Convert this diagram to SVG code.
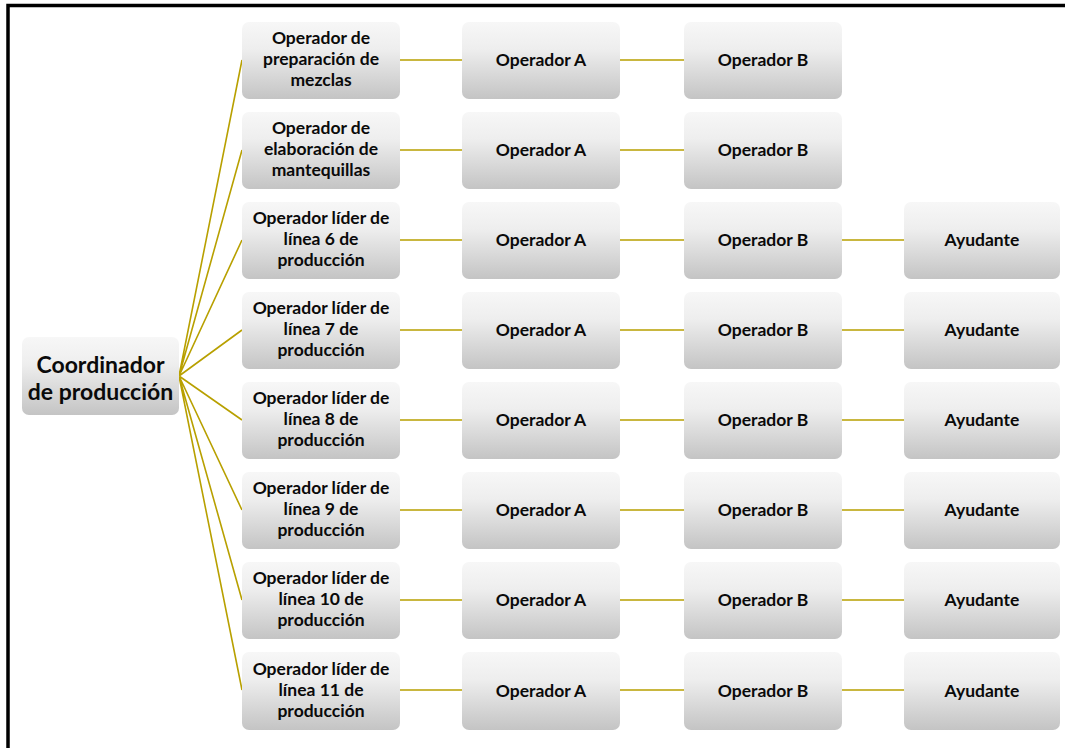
<svg xmlns="http://www.w3.org/2000/svg" width="1065" height="748" viewBox="0 0 1065 748">
<defs>
<linearGradient id="g" x1="0" y1="0" x2="0" y2="1">
<stop offset="0" stop-color="#f7f7f7"/>
<stop offset="0.35" stop-color="#eeeeee"/>
<stop offset="1" stop-color="#c4c4c4"/>
</linearGradient>
</defs>
<style>
.n{fill:url(#g);}
.t{font-family:Lato,"Open Sans","Liberation Sans",sans-serif;font-weight:bold;font-size:17.5px;fill:#0a0a0a;text-anchor:middle;}
.r{font-size:23px;}
.c{stroke:#b8a000;stroke-width:1.6;fill:none;}
</style>
<rect x="0" y="0" width="1065" height="748" fill="#fff"/>
<path d="M8 748 V5.5 H1065" fill="none" stroke="#000" stroke-width="3.5"/>
<g id="connectors">
<path class="c" d="M179 376 L242 60 M179 376 L242 150 M179 376 L242 240 M179 376 L242 330 M179 376 L242 420 M179 376 L242 510 M179 376 L242 600 M179 376 L242 690"/>
<path class="c" d="M400 60 H462 M620 60 H684 M400 150 H462 M620 150 H684"/>
<path class="c" d="M400 240 H462 M620 240 H684 M842 240 H904"/>
<path class="c" d="M400 330 H462 M620 330 H684 M842 330 H904"/>
<path class="c" d="M400 420 H462 M620 420 H684 M842 420 H904"/>
<path class="c" d="M400 510 H462 M620 510 H684 M842 510 H904"/>
<path class="c" d="M400 600 H462 M620 600 H684 M842 600 H904"/>
<path class="c" d="M400 690 H462 M620 690 H684 M842 690 H904"/>
</g>
<g id="root"><rect class="n" x="22" y="337" width="157" height="78" rx="7"/><text class="t r" x="100.5" y="373">Coordinador</text><text class="t r" x="100.5" y="400">de producción</text></g>
<g id="n1"><rect class="n" x="242" y="22" width="158" height="77" rx="7"/><text class="t" x="321" y="44">Operador de</text><text class="t" x="321" y="65">preparación de</text><text class="t" x="321" y="86">mezclas</text></g>
<g id="n1a"><rect class="n" x="462" y="22" width="158" height="77" rx="7"/><text class="t" x="541" y="66">Operador A</text></g>
<g id="n1b"><rect class="n" x="684" y="22" width="158" height="77" rx="7"/><text class="t" x="763" y="66">Operador B</text></g>
<g id="n2"><rect class="n" x="242" y="112" width="158" height="77" rx="7"/><text class="t" x="321" y="134">Operador de</text><text class="t" x="321" y="155">elaboración de</text><text class="t" x="321" y="176">mantequillas</text></g>
<g id="n2a"><rect class="n" x="462" y="112" width="158" height="77" rx="7"/><text class="t" x="541" y="156">Operador A</text></g>
<g id="n2b"><rect class="n" x="684" y="112" width="158" height="77" rx="7"/><text class="t" x="763" y="156">Operador B</text></g>
<g id="n3"><rect class="n" x="242" y="202" width="158" height="77" rx="7"/><text class="t" x="321" y="224">Operador líder de</text><text class="t" x="321" y="245">línea 6 de</text><text class="t" x="321" y="266">producción</text></g>
<g id="n3a"><rect class="n" x="462" y="202" width="158" height="77" rx="7"/><text class="t" x="541" y="246">Operador A</text></g>
<g id="n3b"><rect class="n" x="684" y="202" width="158" height="77" rx="7"/><text class="t" x="763" y="246">Operador B</text></g>
<g id="n3c"><rect class="n" x="904" y="202" width="156" height="77" rx="7"/><text class="t" x="982" y="246">Ayudante</text></g>
<g id="n4"><rect class="n" x="242" y="292" width="158" height="77" rx="7"/><text class="t" x="321" y="314">Operador líder de</text><text class="t" x="321" y="335">línea 7 de</text><text class="t" x="321" y="356">producción</text></g>
<g id="n4a"><rect class="n" x="462" y="292" width="158" height="77" rx="7"/><text class="t" x="541" y="336">Operador A</text></g>
<g id="n4b"><rect class="n" x="684" y="292" width="158" height="77" rx="7"/><text class="t" x="763" y="336">Operador B</text></g>
<g id="n4c"><rect class="n" x="904" y="292" width="156" height="77" rx="7"/><text class="t" x="982" y="336">Ayudante</text></g>
<g id="n5"><rect class="n" x="242" y="382" width="158" height="77" rx="7"/><text class="t" x="321" y="404">Operador líder de</text><text class="t" x="321" y="425">línea 8 de</text><text class="t" x="321" y="446">producción</text></g>
<g id="n5a"><rect class="n" x="462" y="382" width="158" height="77" rx="7"/><text class="t" x="541" y="426">Operador A</text></g>
<g id="n5b"><rect class="n" x="684" y="382" width="158" height="77" rx="7"/><text class="t" x="763" y="426">Operador B</text></g>
<g id="n5c"><rect class="n" x="904" y="382" width="156" height="77" rx="7"/><text class="t" x="982" y="426">Ayudante</text></g>
<g id="n6"><rect class="n" x="242" y="472" width="158" height="77" rx="7"/><text class="t" x="321" y="494">Operador líder de</text><text class="t" x="321" y="515">línea 9 de</text><text class="t" x="321" y="536">producción</text></g>
<g id="n6a"><rect class="n" x="462" y="472" width="158" height="77" rx="7"/><text class="t" x="541" y="516">Operador A</text></g>
<g id="n6b"><rect class="n" x="684" y="472" width="158" height="77" rx="7"/><text class="t" x="763" y="516">Operador B</text></g>
<g id="n6c"><rect class="n" x="904" y="472" width="156" height="77" rx="7"/><text class="t" x="982" y="516">Ayudante</text></g>
<g id="n7"><rect class="n" x="242" y="562" width="158" height="77" rx="7"/><text class="t" x="321" y="584">Operador líder de</text><text class="t" x="321" y="605">línea 10 de</text><text class="t" x="321" y="626">producción</text></g>
<g id="n7a"><rect class="n" x="462" y="562" width="158" height="77" rx="7"/><text class="t" x="541" y="606">Operador A</text></g>
<g id="n7b"><rect class="n" x="684" y="562" width="158" height="77" rx="7"/><text class="t" x="763" y="606">Operador B</text></g>
<g id="n7c"><rect class="n" x="904" y="562" width="156" height="77" rx="7"/><text class="t" x="982" y="606">Ayudante</text></g>
<g id="n8"><rect class="n" x="242" y="652" width="158" height="78" rx="7"/><text class="t" x="321" y="675">Operador líder de</text><text class="t" x="321" y="696">línea 11 de</text><text class="t" x="321" y="717">producción</text></g>
<g id="n8a"><rect class="n" x="462" y="652" width="158" height="78" rx="7"/><text class="t" x="541" y="697">Operador A</text></g>
<g id="n8b"><rect class="n" x="684" y="652" width="158" height="78" rx="7"/><text class="t" x="763" y="697">Operador B</text></g>
<g id="n8c"><rect class="n" x="904" y="652" width="156" height="78" rx="7"/><text class="t" x="982" y="697">Ayudante</text></g>
</svg>
